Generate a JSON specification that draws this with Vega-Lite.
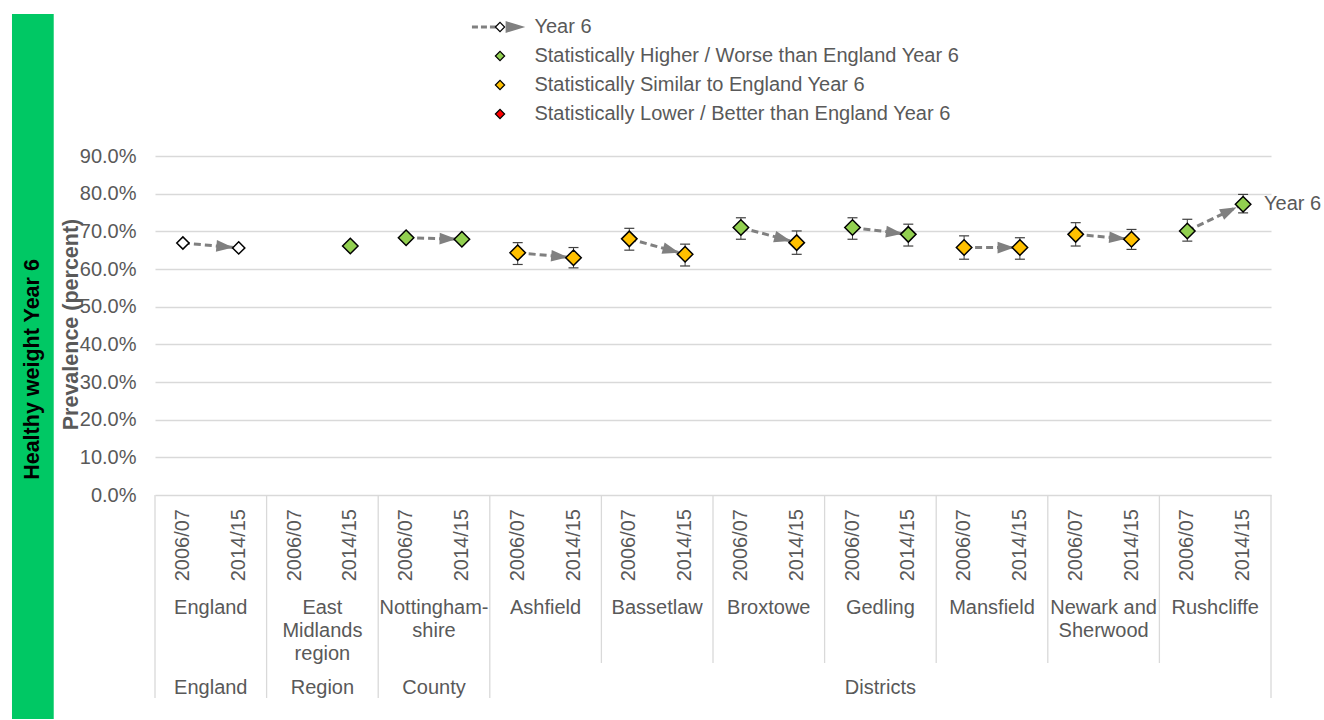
{
  "$schema": "https://vega.github.io/schema/vega-lite/v6.json",
  "width": 1116,
  "height": 339,
  "padding": {"left": 11, "top": 13, "right": 0, "bottom": 0},
  "autosize": {"type": "pad"},
  "background": "white",
  "config": {"view": {"stroke": null}, "font": "Liberation Sans"},
  "datasets": {
    "points": [
      {"area": "England", "period": "2006/07", "value": 66.9, "lo": 66.8, "hi": 67.0, "status": "England"},
      {"area": "England", "period": "2014/15", "value": 65.6, "lo": 65.5, "hi": 65.7, "status": "England"},
      {"area": "East Midlands region", "period": "2014/15", "value": 66.1, "lo": 65.7, "hi": 66.5, "status": "Higher"},
      {"area": "Nottinghamshire", "period": "2006/07", "value": 68.3, "lo": 67.7, "hi": 68.9, "status": "Higher"},
      {"area": "Nottinghamshire", "period": "2014/15", "value": 67.9, "lo": 67.3, "hi": 68.5, "status": "Higher"},
      {"area": "Ashfield", "period": "2006/07", "value": 64.3, "lo": 61.2, "hi": 67.0, "status": "Similar"},
      {"area": "Ashfield", "period": "2014/15", "value": 63.0, "lo": 60.3, "hi": 65.7, "status": "Similar"},
      {"area": "Bassetlaw", "period": "2006/07", "value": 68.0, "lo": 65.0, "hi": 70.8, "status": "Similar"},
      {"area": "Bassetlaw", "period": "2014/15", "value": 63.9, "lo": 60.8, "hi": 66.6, "status": "Similar"},
      {"area": "Broxtowe", "period": "2006/07", "value": 71.0, "lo": 67.9, "hi": 73.6, "status": "Higher"},
      {"area": "Broxtowe", "period": "2014/15", "value": 67.0, "lo": 63.9, "hi": 70.1, "status": "Similar"},
      {"area": "Gedling", "period": "2006/07", "value": 71.0, "lo": 67.9, "hi": 73.6, "status": "Higher"},
      {"area": "Gedling", "period": "2014/15", "value": 69.2, "lo": 66.1, "hi": 71.9, "status": "Higher"},
      {"area": "Mansfield", "period": "2006/07", "value": 65.7, "lo": 62.6, "hi": 68.8, "status": "Similar"},
      {"area": "Mansfield", "period": "2014/15", "value": 65.7, "lo": 62.6, "hi": 68.3, "status": "Similar"},
      {"area": "Newark and Sherwood", "period": "2006/07", "value": 69.2, "lo": 66.1, "hi": 72.3, "status": "Similar"},
      {"area": "Newark and Sherwood", "period": "2014/15", "value": 67.9, "lo": 65.2, "hi": 70.5, "status": "Similar"},
      {"area": "Rushcliffe", "period": "2006/07", "value": 70.1, "lo": 67.4, "hi": 73.2, "status": "Higher"},
      {"area": "Rushcliffe", "period": "2014/15", "value": 77.2, "lo": 74.9, "hi": 79.8, "status": "Higher"}
    ],
    "slots": [
      {"area": "England", "period": "2006/07"}, {"area": "England", "period": "2014/15"},
      {"area": "East Midlands region", "period": "2006/07"}, {"area": "East Midlands region", "period": "2014/15"},
      {"area": "Nottinghamshire", "period": "2006/07"}, {"area": "Nottinghamshire", "period": "2014/15"},
      {"area": "Ashfield", "period": "2006/07"}, {"area": "Ashfield", "period": "2014/15"},
      {"area": "Bassetlaw", "period": "2006/07"}, {"area": "Bassetlaw", "period": "2014/15"},
      {"area": "Broxtowe", "period": "2006/07"}, {"area": "Broxtowe", "period": "2014/15"},
      {"area": "Gedling", "period": "2006/07"}, {"area": "Gedling", "period": "2014/15"},
      {"area": "Mansfield", "period": "2006/07"}, {"area": "Mansfield", "period": "2014/15"},
      {"area": "Newark and Sherwood", "period": "2006/07"}, {"area": "Newark and Sherwood", "period": "2014/15"},
      {"area": "Rushcliffe", "period": "2006/07"}, {"area": "Rushcliffe", "period": "2014/15"}
    ],
    "names": [
      {"area": "England", "name": ["England"]},
      {"area": "East Midlands region", "name": ["East", "Midlands", "region"]},
      {"area": "Nottinghamshire", "name": ["Nottingham-", "shire"]},
      {"area": "Ashfield", "name": ["Ashfield"]},
      {"area": "Bassetlaw", "name": ["Bassetlaw"]},
      {"area": "Broxtowe", "name": ["Broxtowe"]},
      {"area": "Gedling", "name": ["Gedling"]},
      {"area": "Mansfield", "name": ["Mansfield"]},
      {"area": "Newark and Sherwood", "name": ["Newark and", "Sherwood"]},
      {"area": "Rushcliffe", "name": ["Rushcliffe"]}
    ],
    "groups": [
      {"group": "England", "area": "England"},
      {"group": "Region", "area": "East Midlands region"},
      {"group": "County", "area": "Nottinghamshire"},
      {"group": "Districts", "area": "Gedling"}
    ],
    "bounds": [
      {"area": "England", "span": "group"},
      {"area": "East Midlands region", "span": "group"},
      {"area": "Nottinghamshire", "span": "group"},
      {"area": "Ashfield", "span": "group"},
      {"area": "Bassetlaw", "span": "area"},
      {"area": "Broxtowe", "span": "area"},
      {"area": "Gedling", "span": "area"},
      {"area": "Mansfield", "span": "area"},
      {"area": "Newark and Sherwood", "span": "area"},
      {"area": "Rushcliffe", "span": "area"}
    ],
    "legend": [
      {"label": "Year 6", "status": "England"},
      {"label": "Statistically Higher / Worse than England Year 6", "status": "Higher"},
      {"label": "Statistically Similar to England Year 6", "status": "Similar"},
      {"label": "Statistically Lower / Better than England Year 6", "status": "Lower"}
    ]
  },
  "resolve": {"scale": {"x": "independent", "y": "independent"}},
  "layer": [
    {
      "layer": [
        {
          "data": {"values": [{}]},
          "mark": {"type": "rect", "fill": "#00c864"},
          "encoding": {
            "x": {"datum": -2.563, "type": "quantitative", "scale": {"domain": [0, 20], "nice": false, "zero": false}, "axis": null},
            "x2": {"datum": -1.815},
            "y": {"datum": 127.7, "type": "quantitative", "scale": {"domain": [0, 90], "nice": false, "zero": false}, "axis": null},
            "y2": {"datum": -59.5}
          }
        },
        {
          "data": {"values": [{"t": "Healthy weight Year 6"}]},
          "mark": {"type": "text", "angle": 270, "fontSize": 21.5, "fontWeight": "bold", "color": "#000000", "align": "center", "baseline": "middle"},
          "encoding": {
            "x": {"datum": -2.186, "type": "quantitative", "axis": null},
            "y": {"datum": 33.32, "type": "quantitative", "axis": null},
            "text": {"field": "t"}
          }
        }
      ]
    },
    {
      "layer": [
        {
          "data": {"name": "points"},
          "transform": [{"calculate": "datum.area + '|' + datum.period", "as": "key"}],
          "mark": {"type": "line", "stroke": "#808080", "strokeWidth": 3, "strokeDash": [7, 4]},
          "encoding": {
            "x": {"field": "key", "type": "ordinal", "axis": null, "scale": {"paddingInner": 0, "paddingOuter": 0, "domain": ["England|2006/07", "England|2014/15", "East Midlands region|2006/07", "East Midlands region|2014/15", "Nottinghamshire|2006/07", "Nottinghamshire|2014/15", "Ashfield|2006/07", "Ashfield|2014/15", "Bassetlaw|2006/07", "Bassetlaw|2014/15", "Broxtowe|2006/07", "Broxtowe|2014/15", "Gedling|2006/07", "Gedling|2014/15", "Mansfield|2006/07", "Mansfield|2014/15", "Newark and Sherwood|2006/07", "Newark and Sherwood|2014/15", "Rushcliffe|2006/07", "Rushcliffe|2014/15"]}},
            "y": {
              "field": "value", "type": "quantitative",
              "scale": {"domain": [0, 90], "nice": false, "zero": false},
              "axis": {"orient": "left", "values": [0, 10, 20, 30, 40, 50, 60, 70, 80, 90], "labelExpr": "format(datum.value, '.1f') + '%'", "grid": true, "gridColor": "#d9d9d9", "gridWidth": 1.3, "domain": false, "ticks": false, "labelFontSize": 20, "labelColor": "#595959", "labelPadding": 19, "labelOverlap": false, "title": "Prevalence (percent)", "titleFontSize": 21.5, "titleFontWeight": "bold", "titleColor": "#595959", "titleX": -84, "titleY": 168, "titleAngle": 270, "titleAlign": "center", "titleBaseline": "middle"}
            },
            "detail": {"field": "area"}
          }
        },
        {
          "data": {"name": "points"},
          "transform": [
            {"joinaggregate": [{"op": "count", "as": "n"}], "groupby": ["area"]},
            {"filter": "datum.n == 2"},
            {"pivot": "period", "value": "value", "groupby": ["area"]},
            {"calculate": "datum.area + '|2014/15'", "as": "key"},
            {"calculate": "datum['2014/15'] + (datum['2006/07'] - datum['2014/15']) * 0.25", "as": "ay"},
            {"calculate": "atan2((datum['2006/07'] - datum['2014/15']) * 339 / 90, 55.8) * 180 / PI", "as": "ang"}
          ],
          "mark": {"type": "point", "shape": "M-1,-0.7L1,0L-1,0.7Z", "filled": true, "fill": "#808080", "strokeWidth": 0, "size": 280, "opacity": 1},
          "encoding": {
            "x": {"field": "key", "type": "ordinal", "bandPosition": 0.25},
            "y": {"field": "ay", "type": "quantitative", "axis": {"orient": "left", "values": [0, 10, 20, 30, 40, 50, 60, 70, 80, 90], "labelExpr": "format(datum.value, '.1f') + '%'", "grid": true, "gridColor": "#d9d9d9", "gridWidth": 1.3, "domain": false, "ticks": false, "labelFontSize": 20, "labelColor": "#595959", "labelPadding": 19, "labelOverlap": false, "title": "Prevalence (percent)", "titleFontSize": 21.5, "titleFontWeight": "bold", "titleColor": "#595959", "titleX": -84, "titleY": 168, "titleAngle": 270, "titleAlign": "center", "titleBaseline": "middle"}},
            "angle": {"field": "ang", "type": "quantitative", "scale": null}
          }
        },
        {
          "data": {"name": "points"},
          "transform": [{"calculate": "datum.area + '|' + datum.period", "as": "key"}],
          "mark": {"type": "rule", "stroke": "#404040", "strokeWidth": 1},
          "encoding": {
            "x": {"field": "key", "type": "ordinal"},
            "y": {"field": "lo", "type": "quantitative", "axis": {"orient": "left", "values": [0, 10, 20, 30, 40, 50, 60, 70, 80, 90], "labelExpr": "format(datum.value, '.1f') + '%'", "grid": true, "gridColor": "#d9d9d9", "gridWidth": 1.3, "domain": false, "ticks": false, "labelFontSize": 20, "labelColor": "#595959", "labelPadding": 19, "labelOverlap": false, "title": "Prevalence (percent)", "titleFontSize": 21.5, "titleFontWeight": "bold", "titleColor": "#595959", "titleX": -84, "titleY": 168, "titleAngle": 270, "titleAlign": "center", "titleBaseline": "middle"}},
            "y2": {"field": "hi"}
          }
        },
        {
          "data": {"name": "points"},
          "transform": [{"calculate": "datum.area + '|' + datum.period", "as": "key"}],
          "mark": {"type": "tick", "orient": "horizontal", "size": 10, "thickness": 1.2, "color": "#404040", "opacity": 1},
          "encoding": {
            "x": {"field": "key", "type": "ordinal"},
            "y": {"field": "lo", "type": "quantitative", "axis": {"orient": "left", "values": [0, 10, 20, 30, 40, 50, 60, 70, 80, 90], "labelExpr": "format(datum.value, '.1f') + '%'", "grid": true, "gridColor": "#d9d9d9", "gridWidth": 1.3, "domain": false, "ticks": false, "labelFontSize": 20, "labelColor": "#595959", "labelPadding": 19, "labelOverlap": false, "title": "Prevalence (percent)", "titleFontSize": 21.5, "titleFontWeight": "bold", "titleColor": "#595959", "titleX": -84, "titleY": 168, "titleAngle": 270, "titleAlign": "center", "titleBaseline": "middle"}}
          }
        },
        {
          "data": {"name": "points"},
          "transform": [{"calculate": "datum.area + '|' + datum.period", "as": "key"}],
          "mark": {"type": "tick", "orient": "horizontal", "size": 10, "thickness": 1.2, "color": "#404040", "opacity": 1},
          "encoding": {
            "x": {"field": "key", "type": "ordinal"},
            "y": {"field": "hi", "type": "quantitative", "axis": {"orient": "left", "values": [0, 10, 20, 30, 40, 50, 60, 70, 80, 90], "labelExpr": "format(datum.value, '.1f') + '%'", "grid": true, "gridColor": "#d9d9d9", "gridWidth": 1.3, "domain": false, "ticks": false, "labelFontSize": 20, "labelColor": "#595959", "labelPadding": 19, "labelOverlap": false, "title": "Prevalence (percent)", "titleFontSize": 21.5, "titleFontWeight": "bold", "titleColor": "#595959", "titleX": -84, "titleY": 168, "titleAngle": 270, "titleAlign": "center", "titleBaseline": "middle"}}
          }
        },
        {
          "data": {"name": "points"},
          "transform": [{"calculate": "datum.area + '|' + datum.period", "as": "key"}],
          "mark": {"type": "point", "shape": "diamond", "filled": true, "stroke": "#000000", "strokeWidth": 1.5, "opacity": 1},
          "encoding": {
            "x": {"field": "key", "type": "ordinal"},
            "y": {"field": "value", "type": "quantitative", "axis": {"orient": "left", "values": [0, 10, 20, 30, 40, 50, 60, 70, 80, 90], "labelExpr": "format(datum.value, '.1f') + '%'", "grid": true, "gridColor": "#d9d9d9", "gridWidth": 1.3, "domain": false, "ticks": false, "labelFontSize": 20, "labelColor": "#595959", "labelPadding": 19, "labelOverlap": false, "title": "Prevalence (percent)", "titleFontSize": 21.5, "titleFontWeight": "bold", "titleColor": "#595959", "titleX": -84, "titleY": 168, "titleAngle": 270, "titleAlign": "center", "titleBaseline": "middle"}},
            "fill": {"field": "status", "type": "nominal", "legend": null, "scale": {"domain": ["England", "Higher", "Similar", "Lower"], "range": ["#ffffff", "#92d050", "#ffc000", "#ff0000"]}},
            "size": {"condition": {"test": "datum.status === 'England'", "value": 150}, "value": 240}
          }
        },
        {
          "data": {"name": "points"},
          "transform": [
            {"filter": "datum.area === 'Rushcliffe' && datum.period === '2014/15'"},
            {"calculate": "datum.area + '|' + datum.period", "as": "key"}
          ],
          "mark": {"type": "text", "align": "left", "baseline": "middle", "dx": 21, "fontSize": 20, "color": "#595959"},
          "encoding": {
            "x": {"field": "key", "type": "ordinal"},
            "y": {"field": "value", "type": "quantitative", "axis": {"orient": "left", "values": [0, 10, 20, 30, 40, 50, 60, 70, 80, 90], "labelExpr": "format(datum.value, '.1f') + '%'", "grid": true, "gridColor": "#d9d9d9", "gridWidth": 1.3, "domain": false, "ticks": false, "labelFontSize": 20, "labelColor": "#595959", "labelPadding": 19, "labelOverlap": false, "title": "Prevalence (percent)", "titleFontSize": 21.5, "titleFontWeight": "bold", "titleColor": "#595959", "titleX": -84, "titleY": 168, "titleAngle": 270, "titleAlign": "center", "titleBaseline": "middle"}},
            "text": {"value": "Year 6"}
          }
        },
        {
          "data": {"name": "slots"},
          "transform": [{"calculate": "datum.area + '|' + datum.period", "as": "key"}],
          "mark": {"type": "text", "angle": 270, "align": "right", "baseline": "middle", "fontSize": 20, "color": "#595959"},
          "encoding": {
            "x": {"field": "key", "type": "ordinal"},
            "y": {"datum": -3.72, "type": "quantitative", "axis": {"orient": "left", "values": [0, 10, 20, 30, 40, 50, 60, 70, 80, 90], "labelExpr": "format(datum.value, '.1f') + '%'", "grid": true, "gridColor": "#d9d9d9", "gridWidth": 1.3, "domain": false, "ticks": false, "labelFontSize": 20, "labelColor": "#595959", "labelPadding": 19, "labelOverlap": false, "title": "Prevalence (percent)", "titleFontSize": 21.5, "titleFontWeight": "bold", "titleColor": "#595959", "titleX": -84, "titleY": 168, "titleAngle": 270, "titleAlign": "center", "titleBaseline": "middle"}},
            "text": {"field": "period"}
          }
        },
        {
          "data": {"name": "names"},
          "transform": [{"calculate": "datum.area + '|2014/15'", "as": "key"}],
          "mark": {"type": "text", "align": "center", "baseline": "top", "fontSize": 20, "lineHeight": 23, "color": "#595959"},
          "encoding": {
            "x": {"field": "key", "type": "ordinal", "bandPosition": 0},
            "y": {"datum": -27.35, "type": "quantitative", "axis": {"orient": "left", "values": [0, 10, 20, 30, 40, 50, 60, 70, 80, 90], "labelExpr": "format(datum.value, '.1f') + '%'", "grid": true, "gridColor": "#d9d9d9", "gridWidth": 1.3, "domain": false, "ticks": false, "labelFontSize": 20, "labelColor": "#595959", "labelPadding": 19, "labelOverlap": false, "title": "Prevalence (percent)", "titleFontSize": 21.5, "titleFontWeight": "bold", "titleColor": "#595959", "titleX": -84, "titleY": 168, "titleAngle": 270, "titleAlign": "center", "titleBaseline": "middle"}},
            "text": {"field": "name"}
          }
        },
        {
          "data": {"name": "groups"},
          "transform": [{"calculate": "datum.area + '|2014/15'", "as": "key"}],
          "mark": {"type": "text", "align": "center", "baseline": "middle", "fontSize": 20, "color": "#595959"},
          "encoding": {
            "x": {"field": "key", "type": "ordinal", "bandPosition": 0},
            "y": {"datum": -51.24, "type": "quantitative", "axis": {"orient": "left", "values": [0, 10, 20, 30, 40, 50, 60, 70, 80, 90], "labelExpr": "format(datum.value, '.1f') + '%'", "grid": true, "gridColor": "#d9d9d9", "gridWidth": 1.3, "domain": false, "ticks": false, "labelFontSize": 20, "labelColor": "#595959", "labelPadding": 19, "labelOverlap": false, "title": "Prevalence (percent)", "titleFontSize": 21.5, "titleFontWeight": "bold", "titleColor": "#595959", "titleX": -84, "titleY": 168, "titleAngle": 270, "titleAlign": "center", "titleBaseline": "middle"}},
            "text": {"field": "group"}
          }
        },
        {
          "data": {"name": "bounds"},
          "transform": [{"filter": "datum.span === 'group'"}, {"calculate": "datum.area + '|2006/07'", "as": "key"}],
          "mark": {"type": "rule", "stroke": "#d9d9d9", "strokeWidth": 1.3},
          "encoding": {
            "x": {"field": "key", "type": "ordinal", "bandPosition": 0},
            "y": {"datum": 0, "type": "quantitative", "axis": {"orient": "left", "values": [0, 10, 20, 30, 40, 50, 60, 70, 80, 90], "labelExpr": "format(datum.value, '.1f') + '%'", "grid": true, "gridColor": "#d9d9d9", "gridWidth": 1.3, "domain": false, "ticks": false, "labelFontSize": 20, "labelColor": "#595959", "labelPadding": 19, "labelOverlap": false, "title": "Prevalence (percent)", "titleFontSize": 21.5, "titleFontWeight": "bold", "titleColor": "#595959", "titleX": -84, "titleY": 168, "titleAngle": 270, "titleAlign": "center", "titleBaseline": "middle"}},
            "y2": {"datum": -53.9}
          }
        },
        {
          "data": {"name": "bounds"},
          "transform": [{"filter": "datum.span === 'area'"}, {"calculate": "datum.area + '|2006/07'", "as": "key"}],
          "mark": {"type": "rule", "stroke": "#d9d9d9", "strokeWidth": 1.3},
          "encoding": {
            "x": {"field": "key", "type": "ordinal", "bandPosition": 0},
            "y": {"datum": 0, "type": "quantitative", "axis": {"orient": "left", "values": [0, 10, 20, 30, 40, 50, 60, 70, 80, 90], "labelExpr": "format(datum.value, '.1f') + '%'", "grid": true, "gridColor": "#d9d9d9", "gridWidth": 1.3, "domain": false, "ticks": false, "labelFontSize": 20, "labelColor": "#595959", "labelPadding": 19, "labelOverlap": false, "title": "Prevalence (percent)", "titleFontSize": 21.5, "titleFontWeight": "bold", "titleColor": "#595959", "titleX": -84, "titleY": 168, "titleAngle": 270, "titleAlign": "center", "titleBaseline": "middle"}},
            "y2": {"datum": -44.6}
          }
        },
        {
          "data": {"name": "bounds"},
          "transform": [{"filter": "datum.area === 'Rushcliffe'"}, {"calculate": "datum.area + '|2014/15'", "as": "key"}],
          "mark": {"type": "rule", "stroke": "#d9d9d9", "strokeWidth": 1.3},
          "encoding": {
            "x": {"field": "key", "type": "ordinal", "bandPosition": 1},
            "y": {"datum": 0, "type": "quantitative", "axis": {"orient": "left", "values": [0, 10, 20, 30, 40, 50, 60, 70, 80, 90], "labelExpr": "format(datum.value, '.1f') + '%'", "grid": true, "gridColor": "#d9d9d9", "gridWidth": 1.3, "domain": false, "ticks": false, "labelFontSize": 20, "labelColor": "#595959", "labelPadding": 19, "labelOverlap": false, "title": "Prevalence (percent)", "titleFontSize": 21.5, "titleFontWeight": "bold", "titleColor": "#595959", "titleX": -84, "titleY": 168, "titleAngle": 270, "titleAlign": "center", "titleBaseline": "middle"}},
            "y2": {"datum": -53.9}
          }
        }
      ]
    },
    {
      "data": {"name": "legend"},
      "layer": [
        {
          "transform": [{"filter": "datum.status === 'England'"}],
          "mark": {"type": "rule", "stroke": "#808080", "strokeWidth": 3, "strokeDash": [6, 3]},
          "encoding": {
            "x": {"datum": 5.68, "type": "quantitative", "scale": {"domain": [0, 20], "nice": false, "zero": false}, "axis": null},
            "x2": {"datum": 6.11},
            "y": {"field": "label", "type": "nominal", "axis": null, "scale": {"type": "point", "padding": 0, "range": [-129, -42], "domain": ["Year 6", "Statistically Higher / Worse than England Year 6", "Statistically Similar to England Year 6", "Statistically Lower / Better than England Year 6"]}}
          }
        },
        {
          "mark": {"type": "point", "shape": "diamond", "filled": true, "stroke": "#000000", "strokeWidth": 1.2, "size": 85, "opacity": 1},
          "encoding": {
            "x": {"datum": 6.183, "type": "quantitative", "axis": null},
            "y": {"field": "label", "type": "nominal", "axis": null},
            "fill": {"field": "status", "type": "nominal", "legend": null}
          }
        },
        {
          "transform": [{"filter": "datum.status === 'England'"}],
          "mark": {"type": "point", "shape": "M-1,-0.6L1,0L-1,0.6Z", "filled": true, "fill": "#808080", "strokeWidth": 0, "size": 388, "opacity": 1},
          "encoding": {
            "x": {"datum": 6.46, "type": "quantitative", "axis": null},
            "y": {"field": "label", "type": "nominal", "axis": null}
          }
        },
        {
          "mark": {"type": "text", "align": "left", "baseline": "middle", "fontSize": 20, "color": "#595959"},
          "encoding": {
            "x": {"datum": 6.8, "type": "quantitative", "axis": null},
            "y": {"field": "label", "type": "nominal", "axis": null},
            "text": {"field": "label"}
          }
        }
      ]
    }
  ]
}
